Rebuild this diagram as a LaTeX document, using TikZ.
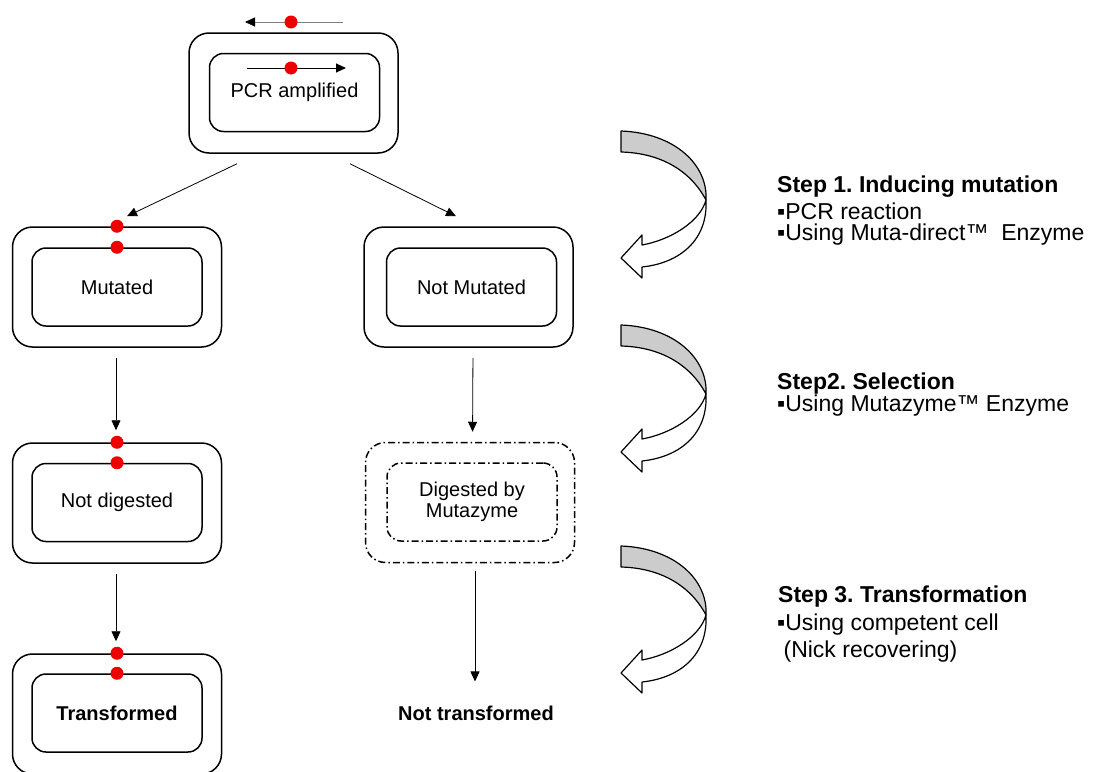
\documentclass[tikz,border=0pt]{standalone}
\usepackage{fontspec}
\setmainfont{Liberation Sans}
\usetikzlibrary{arrows.meta}
\frenchspacing
\definecolor{ribbongray}{RGB}{204,204,204}
\definecolor{dotred}{RGB}{238,0,0}
\definecolor{linegray}{RGB}{128,128,128}
\tikzset{
 curvearrow/.pic={
  \filldraw[ribbon, fill=ribbongray] (0,0) .. controls (54,2) and (87,34) .. (85,69)
      .. controls (69,39) and (39,22) .. (0,21) -- cycle;
  \filldraw[ribbon, fill=white] (85,69) .. controls (87,109) and (59,132) .. (21,136)
      -- (21,147) -- (0,127) -- (21,104) -- (21,114)
      .. controls (49,109) and (79,91) .. (85,69) -- cycle;
 }
}
\begin{document}
\begin{tikzpicture}[x=1pt,y=-1pt,
 outerbox/.style={draw, line width=1.5pt, rounded corners=20pt, minimum width=209pt, minimum height=120pt, inner sep=0pt},
 innerbox/.style={draw, line width=1.5pt, rounded corners=14pt, minimum width=170pt, minimum height=78pt, inner sep=0pt, align=center, font=\fontsize{20}{21}\selectfont},
 dashdot/.style={dash pattern=on 7pt off 3pt on 1.5pt off 3pt},
 reddot/.style={circle, fill=dotred, minimum size=13pt, inner sep=0pt},
 conn/.style={line width=0.8pt, -{Triangle[length=10pt,width=9pt]}},
 steptitle/.style={anchor=base west, inner sep=0pt, font=\fontsize{23}{27}\selectfont\bfseries},
 stepline/.style={anchor=base west, inner sep=0pt, font=\fontsize{23}{27}\selectfont},
 ribbon/.style={line width=1.2pt, line join=round},
 labeltext/.style={inner sep=0pt, font=\fontsize{20}{23}\selectfont\bfseries}
]
\useasboundingbox (0,0) rectangle (1099,771);
\clip (0,0) rectangle (1099,771);

% ---- top box
\node[outerbox] (top) at (293.5,93) {};
\node[innerbox] (topin) at (294.5,92.5) {\raisebox{-6pt}{PCR amplified}};
\coordinate (ta1) at (343,22);
\coordinate (ta2) at (245,22);
\draw[line width=1pt, linegray, -{Triangle[length=10pt,width=9pt,color=black]}] (ta1) -- (ta2);
\node[reddot] (tdot) at (291,22) {};
\coordinate (ia1) at (247,68);
\coordinate (ia2) at (346,68);
\draw[line width=1pt, -{Triangle[length=10pt,width=9pt]}] (ia1) -- (ia2);
\node[reddot] (idot) at (291,68) {};

% ---- second row
\node[outerbox] (mut) at (117,287) {};
\node[innerbox] (mutin) at (117,287) {Mutated};
\node[outerbox] (nmut) at (468.5,287) {};
\node[innerbox] (nmutin) at (471.5,287) {Not Mutated};

% ---- third row
\node[outerbox] (nd) at (117,503) {};
\node[innerbox] (ndin) at (117,502.5) {Not digested};
\node[outerbox, dashdot] (dig) at (470,502.5) {};
\node[innerbox, dashdot] (digin) at (472,502) {Digested by\\Mutazyme};

% ---- fourth row
\node[outerbox] (tr) at (117,714) {};
\node[innerbox, font=\fontsize{20}{23}\selectfont\bfseries] (trin) at (117,713) {Transformed};
\node[labeltext] (nt) at (476,713) {Not transformed};

% ---- red dots on boxes
\node[reddot] at (mut.north) {};
\node[reddot] at (mutin.north) {};
\node[reddot] at (nd.north) {};
\node[reddot] at (ndin.north) {};
\node[reddot] at (tr.north) {};
\node[reddot] at (trin.north) {};

% ---- connectors
\draw[conn] ([xshift=-56.5pt,yshift=-10pt]top.south) -- ([xshift=10pt,yshift=10pt]mut.north);
\draw[conn] ([xshift=56.5pt,yshift=-10pt]top.south) -- ([xshift=-12.5pt,yshift=10pt]nmut.north);
\draw[conn, shorten <=10pt, shorten >=12pt] ([xshift=-1pt]mut.south) -- ([xshift=-1pt]nd.north);
\draw[conn, shorten <=10pt, shorten >=12pt] ([xshift=-1pt]nd.south) -- ([xshift=-1pt]tr.north);
\draw[conn, shorten <=10pt, shorten >=10pt] ([xshift=4.5pt]nmut.south) -- ([xshift=2.5pt]dig.north);
\draw[conn] ([xshift=5pt,yshift=-8pt]dig.south) -- ([xshift=-1pt,yshift=24pt]nt.north);

% ---- curved arrows
\pic (ca1) at (621,131) {curvearrow};
\pic (ca2) at (621,325) {curvearrow};
\pic (ca3) at (621,546) {curvearrow};

% ---- step texts
\node[steptitle] (s1) at (777,192.5) {Step 1. Inducing mutation};
\node[stepline] (s1a) at (777,219) {▪PCR reaction};
\node[stepline] (s1b) at (777,240) {▪Using Muta-direct™~ Enzyme};

\node[steptitle] (s2) at (777,389) {Step2. Selection};
\node[stepline] (s2a) at (777,411.5) {▪Using Mutazyme™ Enzyme};

\node[steptitle] (s3) at (778,602) {Step 3. Transformation};
\node[stepline] (s3a) at (777,630) {▪Using competent cell};
\node[stepline] (s3b) at (777,657) {~(Nick recovering)};
\end{tikzpicture}
\end{document}
